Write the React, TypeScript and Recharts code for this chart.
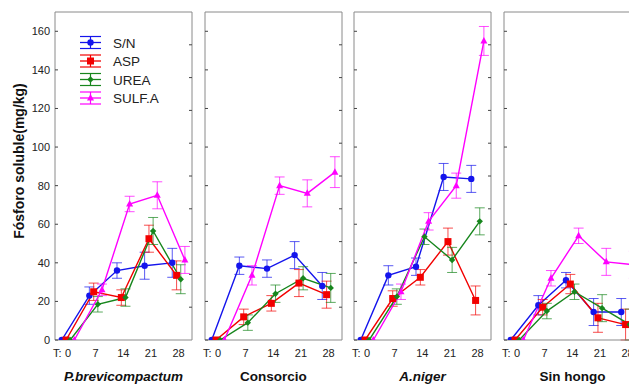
import React from 'react';
import { LineChart, Line, XAxis, YAxis, ErrorBar } from 'recharts';

const times = [0, 7, 14, 21, 28];
const yTicks = [0, 20, 40, 60, 80, 100, 120, 140, 160];
const rightTicks = [1, 2, 3, 4, 5, 6, 7, 8, 9];
const panelTitles = ['P.brevicompactum', 'Consorcio', 'A.niger', 'Sin hongo'];
const titleItalic = [true, false, true, false];
const seriesNames = ['S/N', 'ASP', 'UREA', 'SULF.A'];
const seriesColors = ['#1414ec', '#f20000', '#17861d', '#ff00ff'];
const seriesShapes = ['circle', 'square', 'diamond', 'triangle'];
const seriesOffsets = [-1.6, -0.5, 0.55, 1.6];

// P.brevicompactum
const pbSN = [0, 23, 36, 38.5, 40];
const pbSNErr = [null, 4.5, 4, 7, 7.5];
const pbASP = [0, 25, 22, 52.5, 33.5];
const pbASPErr = [null, 4.5, 4, 7, 7.5];
const pbUREA = [0, 18.5, 22, 56.5, 31.5];
const pbUREAErr = [null, 4, 4.5, 7, 7.5];
const pbSULF = [0, 26, 70.5, 75, 41.5];
const pbSULFErr = [null, 3, 4, 7, 7];

// Consorcio
const coSN = [0, 38.5, 37, 44, 28];
const coSNErr = [null, 4.5, 4.5, 7, 7];
const coASP = [0, 12, 19, 29.5, 23.5];
const coASPErr = [null, 4, 4, 7, 7];
const coUREA = [0, 9, 24, 32, 27];
const coUREAErr = [null, 4, 4.5, 6, 7.5];
const coSULF = [0, 33.5, 80, 76, 87];
const coSULFErr = [null, 5, 4.5, 7, 8];

// A.niger
const anSN = [0, 33.5, 38, 84.5, 83.5];
const anSNErr = [null, 5, 4.5, 7, 7];
const anASP = [0, 21.5, 32.5, 51, 20.5];
const anASPErr = [null, 4, 4, 7, 7.5];
const anUREA = [0, 22.5, 53.5, 41.5, 61.5];
const anUREAErr = [null, 4, 4, 6.5, 7];
const anSULF = [0, 25, 61.5, 80, 155];
const anSULFErr = [null, 4, 4.5, 6.5, 7.5];

// Sin hongo
const shSN = [0, 18, 31, 14.5, 14.5];
const shSNErr = [null, 5, 4, 7, 7];
const shASP = [0, 17, 29, 11.5, 8];
const shASPErr = [null, 4, 5, 7.5, 8];
const shUREA = [0, 15, 25, 16.5, 8];
const shUREAErr = [null, 4, 4, 7, 8];
const shSULF = [0, 32, 54, 40.5, 39];
const shSULFErr = [null, 4, 4, 7, 7];

const panelValues = [
  [pbSN, pbASP, pbUREA, pbSULF],
  [coSN, coASP, coUREA, coSULF],
  [anSN, anASP, anUREA, anSULF],
  [shSN, shASP, shUREA, shSULF],
];
const panelErrors = [
  [pbSNErr, pbASPErr, pbUREAErr, pbSULFErr],
  [coSNErr, coASPErr, coUREAErr, coSULFErr],
  [anSNErr, anASPErr, anUREAErr, anSULFErr],
  [shSNErr, shASPErr, shUREAErr, shSULFErr],
];

const FONT = '"Liberation Sans", Arial, sans-serif';
const BOX = '#8a8a8a';
const PLOT_W = 137;
const panelLefts = [55, 205, 354, 504];
const xDomain = [-3.3, 31.4];

function Marker({ cx, cy, shape, color }: any) {
  if (cx == null || cy == null) return null;
  if (shape === 'circle') return <circle cx={cx} cy={cy} r={3.2} fill={color} />;
  if (shape === 'square') return <rect x={cx - 3.5} y={cy - 3.5} width={7} height={7} fill={color} />;
  if (shape === 'diamond')
    return <polygon points={`${cx},${cy - 3.2} ${cx + 3.2},${cy} ${cx},${cy + 3.2} ${cx - 3.2},${cy}`} fill={color} />;
  return <polygon points={`${cx},${cy - 4} ${cx + 3.5},${cy + 2.5} ${cx - 3.5},${cy + 2.5}`} fill={color} />;
}

const bottomTick = (p: any) => (
  <g>
    {p.payload.value === 0 && (
      <text x={p.x - 6.5} y={p.y + 17} textAnchor="end" fontSize={11} fontFamily={FONT} fill="#222">T:</text>
    )}
    <text x={p.x} y={p.y + 17} textAnchor="middle" fontSize={11} fontFamily={FONT} fill="#222">
      {p.payload.value}
    </text>
  </g>
);

const topTick = (p: any) => <line x1={p.x} x2={p.x} y1={p.y} y2={p.y + 3} stroke="#444" />;

const rightTick = (p: any) => <line x1={p.x - 3} x2={p.x} y1={p.y} y2={p.y} stroke="#444" />;

const makeLeftTick = (withLabel: boolean) => (p: any) => (
  <g>
    <line x1={p.x} x2={p.x + 3} y1={p.y} y2={p.y} stroke="#444" />
    {withLabel && (
      <text x={p.x - 5} y={p.y + 4} textAnchor="end" fontSize={11} fontFamily={FONT} fill="#222">
        {p.payload.value}
      </text>
    )}
  </g>
);

function Panel({ index }: { index: number }) {
  const first = index === 0;
  const leftAxisW = first ? 30 : 4;
  const leftSpace = first ? 55 : 6;
  const width = leftSpace + PLOT_W + 6;

  return (
    <div style={{ position: 'absolute', left: panelLefts[index] - leftSpace, top: 0 }}>
      <LineChart
        width={width}
        height={384}
        margin={{ top: 8, right: 2, bottom: 24, left: leftSpace - leftAxisW }}
      >
        <XAxis
          xAxisId="b"
          dataKey="x"
          type="number"
          domain={xDomain}
          ticks={times}
          interval={0}
          height={20}
          tickSize={0}
          tickMargin={0}
          tickLine={false}
          axisLine={{ stroke: BOX }}
          tick={bottomTick}
          allowDataOverflow
        />
        <XAxis
          xAxisId="t"
          orientation="top"
          type="number"
          domain={xDomain}
          ticks={times}
          interval={0}
          height={4}
          tickSize={0}
          tickMargin={0}
          tickLine={false}
          axisLine={{ stroke: BOX }}
          tick={topTick}
          allowDataOverflow
        />
        <YAxis
          yAxisId="l"
          type="number"
          domain={[0, 170]}
          ticks={yTicks}
          interval={0}
          width={leftAxisW}
          tickSize={0}
          tickMargin={0}
          tickLine={false}
          axisLine={{ stroke: BOX }}
          tick={makeLeftTick(first)}
          allowDataOverflow
        />
        <YAxis
          yAxisId="r"
          orientation="right"
          type="number"
          domain={[0, 10]}
          ticks={rightTicks}
          interval={0}
          width={4}
          tickSize={0}
          tickMargin={0}
          tickLine={false}
          axisLine={{ stroke: BOX }}
          tick={rightTick}
          allowDataOverflow
        />
        {seriesNames.map((name, s) => {
          const data = times.map((t, i) => ({
            x: t + seriesOffsets[s],
            y: panelValues[index][s][i],
            err: panelErrors[index][s][i],
          }));
          return (
            <Line
              key={name}
              name={name}
              xAxisId="b"
              yAxisId="l"
              data={data}
              dataKey="y"
              type="linear"
              stroke={seriesColors[s]}
              strokeWidth={1.4}
              dot={(p: any) => (
                <Marker key={`m${s}-${p.index}`} cx={p.cx} cy={p.cy} shape={seriesShapes[s]} color={seriesColors[s]} />
              )}
              isAnimationActive={false}
            >
              <ErrorBar dataKey="err" width={5} stroke={seriesColors[s]} strokeWidth={1} strokeOpacity={0.7} direction="y" />
            </Line>
          );
        })}
      </LineChart>
    </div>
  );
}

function LegendBox() {
  const rows = [42.5, 61, 79.5, 98];
  return (
    <svg width={200} height={120} style={{ position: 'absolute', left: 0, top: 0 }}>
      {seriesNames.map((name, s) => {
        const y = rows[s];
        const c = seriesColors[s];
        return (
          <g key={name}>
            <line x1={80} x2={101} y1={y - 6} y2={y - 6} stroke={c} strokeWidth={1.2} />
            <line x1={80} x2={101} y1={y} y2={y} stroke={c} strokeWidth={1.3} />
            <line x1={80} x2={101} y1={y + 6} y2={y + 6} stroke={c} strokeWidth={1.2} />
            <line x1={90.5} x2={90.5} y1={y - 6} y2={y + 6} stroke={c} strokeWidth={1.2} />
            <Marker cx={90.5} cy={y} shape={seriesShapes[s]} color={c} />
            <text x={113} y={y + 5} fontSize={13.5} fontFamily={FONT} fill="#222">{name}</text>
          </g>
        );
      })}
    </svg>
  );
}

export default function App() {
  return (
    <div
      style={{
        position: 'absolute',
        left: 0,
        top: 0,
        width: 629,
        height: 384,
        overflow: 'hidden',
        background: '#fff',
      }}
    >
      {panelTitles.map((_, i) => (
        <Panel key={i} index={i} />
      ))}
      <LegendBox />
      <svg width={30} height={340} style={{ position: 'absolute', left: 0, top: 0 }}>
        <text
          x={24}
          y={161}
          transform="rotate(-90 24 161)"
          textAnchor="middle"
          fontSize={14}
          fontWeight="bold"
          fontFamily={FONT}
          fill="#111"
        >
          Fósforo soluble(mg/kg)
        </text>
      </svg>
      {panelTitles.map((t, i) => (
        <div
          key={t}
          style={{
            position: 'absolute',
            left: panelLefts[i],
            top: 369,
            width: PLOT_W,
            textAlign: 'center',
            fontFamily: FONT,
            fontSize: 13.5,
            lineHeight: '16px',
            fontWeight: 'bold',
            fontStyle: titleItalic[i] ? 'italic' : 'normal',
            color: '#111',
          }}
        >
          {t}
        </div>
      ))}
    </div>
  );
}
